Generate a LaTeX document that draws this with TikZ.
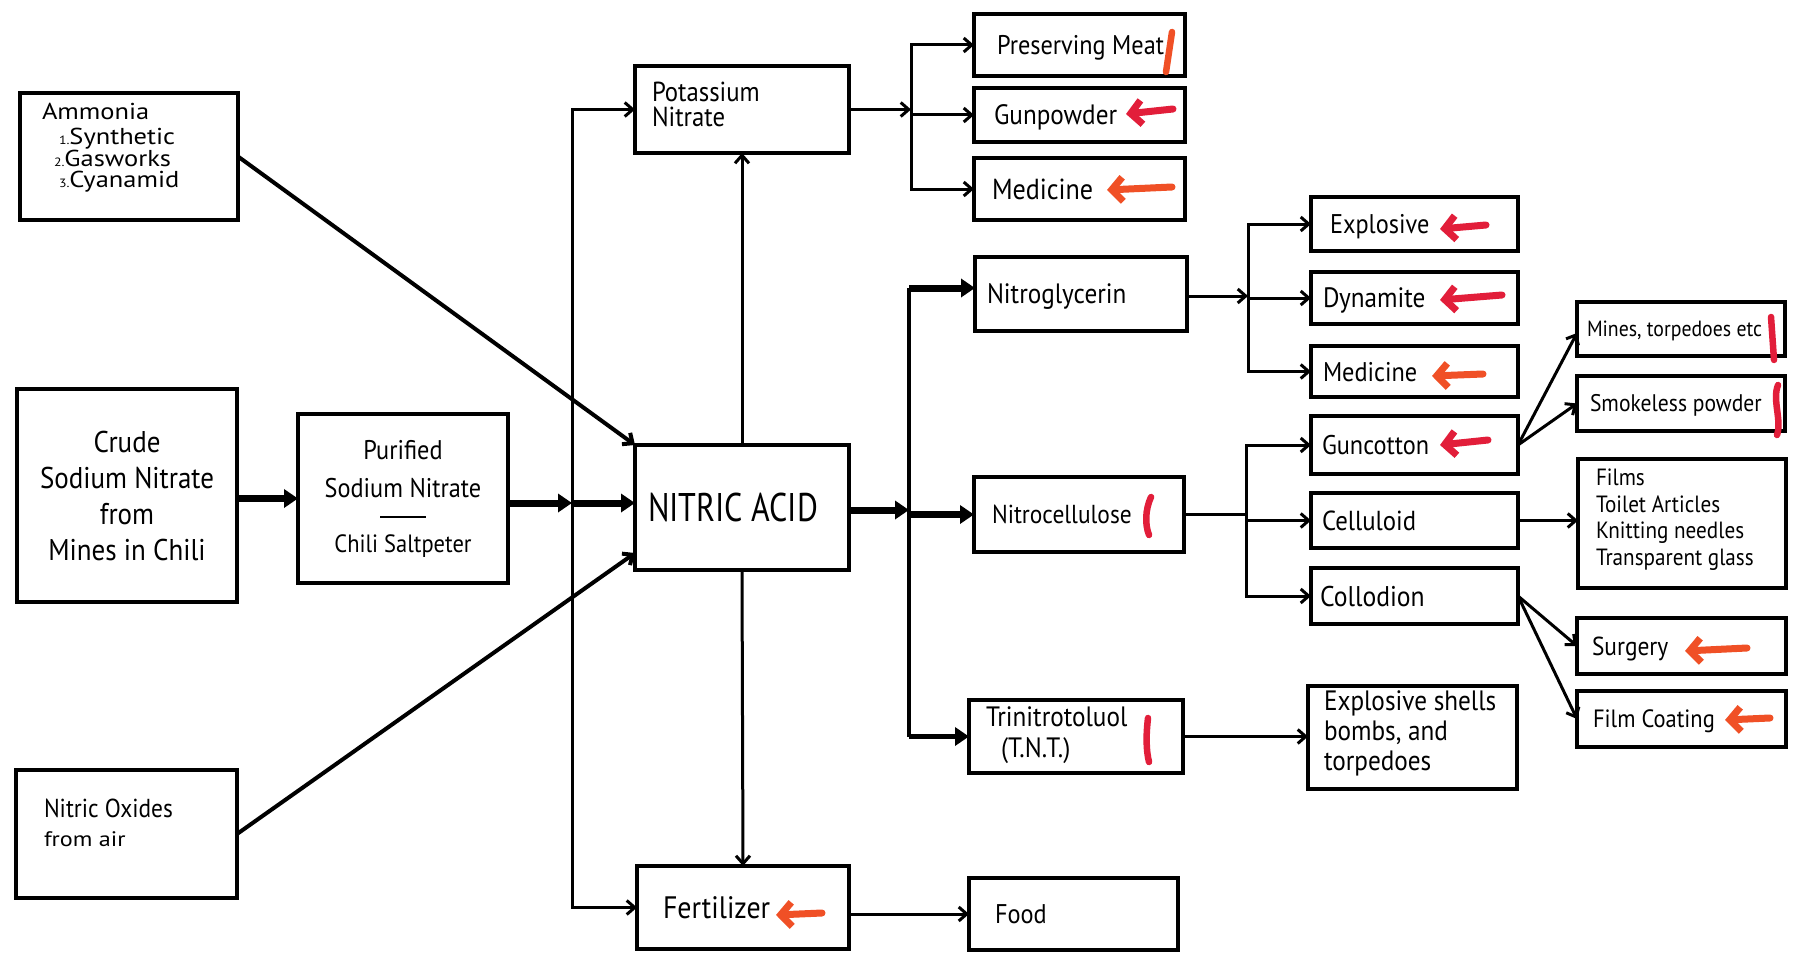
\documentclass[tikz,border=0pt]{standalone}
\usepackage{fontspec}
\setmainfont{PT Sans}[FakeStretch=0.9]
\newfontfamily\widefont{PT Sans}[FakeStretch=1.15]
\newfontfamily\capsfont{PT Sans}[FakeStretch=0.8]
\usetikzlibrary{arrows.meta,calc}
\definecolor{inkred}{RGB}{226,30,58}
\definecolor{inkorange}{RGB}{240,80,38}
\newcommand{\fsz}[2]{\fontsize{#1}{#2}\selectfont}
\begin{document}
\begin{tikzpicture}[x=1pt,y=-1pt,
  box/.style={draw=black, line width=4.5pt, inner sep=0pt, outer sep=0pt, fill=white},
  lbl/.style={inner sep=0pt, outer sep=0pt, anchor=base west, text=black},
  conn/.style={draw=black, line width=3pt, -{Straight Barb[length=8pt,width=14pt]}},
  plain/.style={draw=black, line width=3pt},
  heavy/.style={draw=black, line width=7pt, -{Triangle[length=14pt,width=18pt]}},
  redarrow/.style={line width=7pt, line cap=round, -{Straight Barb[length=11pt,width=24pt]}},
  redstroke/.style={line width=6.5pt, line cap=round},
]
\path[use as bounding box, fill=white] (0,0) rectangle (1799,955);

% ---------- left column ----------
\node[box, minimum width=218pt, minimum height=127pt] (amm) at (129,156.5) {};
\node[lbl, anchor=north west, align=left, font=\widefont\fsz{23}{21.5}] (ammT) at (42,103)
  {Ammonia\\[4pt]\hspace*{17pt}{\fsz{12}{12}1.}Synthetic\\\hspace*{12pt}{\fsz{12}{12}2.}Gasworks\\\hspace*{17pt}{\fsz{12}{12}3.}Cyanamid};

\node[box, minimum width=220pt, minimum height=213pt, align=center, font=\fsz{30}{36}] (crude) at (127,495.5)
  {Crude\\Sodium Nitrate\\from\\Mines in Chili};

\node[box, minimum width=210pt, minimum height=169pt, align=center, font=\fsz{27}{38}] (pur) at (403,498.5)
  {Purified\\Sodium Nitrate\\[-17pt]\rule{46pt}{2.5pt}\\[-4pt]{\fsz{25}{38}Chili Saltpeter}};

\node[box, minimum width=221pt, minimum height=128pt] (nox) at (126.5,834) {};
\node[lbl, anchor=north west, align=left, font=\fsz{26}{29}] (noxT) at (44,799)
  {Nitric Oxides\\{\widefont\fsz{21}{29}from air}};

% ---------- middle column ----------
\node[box, minimum width=214pt, minimum height=87pt] (pot) at (742,109.5) {};
\node[lbl, anchor=north west, align=left, font=\fsz{27.5}{25}] (potT) at (652,82) {Potassium\\Nitrate};

\node[box, minimum width=214pt, minimum height=125pt] (na) at (742,507.5) {};
\node[lbl, font=\capsfont\fsz{40}{40}] (naT) at ($(na.west)+(13,14)$) {NITRIC ACID};

\node[box, minimum width=212pt, minimum height=83pt] (fert) at (743,907.5) {};
\node[lbl, font=\fsz{31}{31}] (fertT) at ($(fert.west)+(26,10.9)$) {Fertilizer};

% ---------- third column ----------
\node[box, minimum width=211pt, minimum height=62pt] (pres) at (1079.5,45) {};
\node[lbl, font=\fsz{27}{27}] (presT) at ($(pres.west)+(23,9.5)$) {Preserving Meat};
\node[box, minimum width=211pt, minimum height=54pt] (gun) at (1079.5,115) {};
\node[lbl, font=\fsz{28}{28}] (gunT) at ($(gun.west)+(20,9.8)$) {Gunpowder};
\node[box, minimum width=211pt, minimum height=62pt] (med1) at (1079.5,189) {};
\node[lbl, font=\fsz{29}{29}] (med1T) at ($(med1.west)+(18,10.2)$) {Medicine};

\node[box, minimum width=212pt, minimum height=74pt] (nglyc) at (1081,294) {};
\node[lbl, font=\fsz{28}{28}] (nglycT) at ($(nglyc.west)+(12,9.8)$) {Nitroglycerin};
\node[box, minimum width=210pt, minimum height=75pt] (ncell) at (1079,514.5) {};
\node[lbl, font=\fsz{26}{26}] (ncellT) at ($(ncell.west)+(18,9.1)$) {Nitrocellulose};
\node[box, minimum width=214pt, minimum height=73pt] (tnt) at (1076,736.5) {};
\node[lbl, anchor=north west, align=left, font=\fsz{28}{31}] (tntT) at (986,707) {Trinitrotoluol\\\hspace*{15pt}(T.N.T.)};
\node[box, minimum width=209pt, minimum height=72pt] (food) at (1073.5,914) {};
\node[lbl, font=\fsz{27}{27}] (foodT) at ($(food.west)+(26,9.5)$) {Food};

% ---------- fourth column ----------
\node[box, minimum width=207pt, minimum height=54pt] (expl) at (1414.5,224) {};
\node[lbl, font=\fsz{27}{27}] (explT) at ($(expl.west)+(19,9.5)$) {Explosive};
\node[box, minimum width=207pt, minimum height=52pt] (dyn) at (1414.5,298) {};
\node[lbl, font=\fsz{28}{28}] (dynT) at ($(dyn.west)+(12,9.8)$) {Dynamite};
\node[box, minimum width=207pt, minimum height=51pt] (med2) at (1414.5,371.5) {};
\node[lbl, font=\fsz{27}{27}] (med2T) at ($(med2.west)+(12,9.5)$) {Medicine};
\node[box, minimum width=207pt, minimum height=58pt] (gunc) at (1414.5,445) {};
\node[lbl, font=\fsz{27}{27}] (guncT) at ($(gunc.west)+(11,9.5)$) {Guncotton};
\node[box, minimum width=207pt, minimum height=55pt] (cell) at (1414.5,520.5) {};
\node[lbl, font=\fsz{27.5}{27.5}] (cellT) at ($(cell.west)+(11,9.6)$) {Celluloid};
\node[box, minimum width=207pt, minimum height=56pt] (coll) at (1414.5,596) {};
\node[lbl, font=\fsz{28.5}{28.5}] (collT) at ($(coll.west)+(9,10)$) {Collodion};
\node[box, minimum width=209pt, minimum height=103pt] (shells) at (1412.5,737.5) {};
\node[lbl, anchor=north west, align=left, font=\fsz{28}{30}] (shellsT) at (1324,691)
  {Explosive shells\\bombs, and\\torpedoes};

% ---------- fifth column ----------
\node[box, minimum width=208pt, minimum height=54pt] (mines) at (1681,329) {};
\node[lbl, font=\fsz{22}{22}] (minesT) at ($(mines.west)+(10,7.7)$) {Mines, torpedoes etc};
\node[box, minimum width=208pt, minimum height=55pt] (smoke) at (1681,403.5) {};
\node[lbl, font=\fsz{24}{24}] (smokeT) at ($(smoke.west)+(13,8.4)$) {Smokeless powder};
\node[box, minimum width=208pt, minimum height=129pt] (films) at (1682,523.5) {};
\node[lbl, anchor=north west, align=left, font=\fsz{23.5}{26.5}] (filmsT) at (1596,469)
  {Films\\Toilet Articles\\Knitting needles\\Transparent glass};
\node[box, minimum width=209pt, minimum height=56pt] (surg) at (1681.5,646) {};
\node[lbl, font=\fsz{26}{26}] (surgT) at ($(surg.west)+(15,9.1)$) {Surgery};
\node[box, minimum width=209pt, minimum height=56pt] (fcoat) at (1681.5,719) {};
\node[lbl, font=\fsz{25}{25}] (fcoatT) at ($(fcoat.west)+(16,8.75)$) {Film Coating};

% ---------- connectors ----------
\coordinate (J) at (572,503);
\draw[heavy] (crude.east |- pur.west) -- (pur.west);
\draw[heavy] (pur.east |- J) -- (J);
\draw[heavy] (J) -- (J -| na.west);
\draw[conn] (J) |- (pot.west);
\draw[conn] (J) |- (fert.west);
\draw[conn, line width=4pt] (amm.east) -- (na.north west);
\draw[conn, line width=4pt] (nox.east) -- ($(na.south west)+(0,-17)$);
\draw[conn] (na.north) -- (pot.south);
\draw[conn] (na.south) -- (fert.north);

\coordinate (K) at (911,109.5);
\draw[conn] (pot.east) -- (K);
\draw[conn] (K) |- (pres.west);
\draw[conn] (K |- gun.west) -- (gun.west);
\draw[conn] (K) |- (med1.west);

\coordinate (L) at (909,510);
\coordinate (Ln) at (909,288);
\coordinate (Lt) at (L |- tnt.west);
\draw[heavy] (na.east |- L) -- (L);
\draw[plain, line width=3.5pt] (Ln) -- (Lt);
\draw[heavy] (Ln) -- (Ln -| nglyc.west);
\draw[heavy] (L |- ncell.west) -- (ncell.west);
\draw[heavy, line width=5pt] (Lt) -- (tnt.west);

\coordinate (M) at (1248,296);
\draw[conn] (nglyc.east |- M) -- (M);
\draw[conn] (M) |- (expl.west);
\draw[conn] (M |- dyn.west) -- (dyn.west);
\draw[conn] (M) |- (med2.west);

\coordinate (N) at (1246,514.5);
\draw[plain] (ncell.east) -- (N);
\draw[conn] (N) |- (gunc.west);
\draw[conn] (N |- cell.west) -- (cell.west);
\draw[conn] (N) |- (coll.west);

\draw[conn] (tnt.east) -- (tnt.east -| shells.west);
\draw[conn] (gunc.east) -- ($(mines.west)+(0,4)$);
\draw[conn] (gunc.east) -- (smoke.west);
\draw[conn] (cell.east) -- (cell.east -| films.west);
\draw[conn] (coll.east) -- (surg.west);
\draw[conn] (coll.east) -- (fcoat.west);
\draw[conn] (fert.east |- food.west) -- (food.west);

% ---------- red annotations ----------
\draw[redarrow, inkred] (1173,109) -- (1126,114);
\draw[redarrow, inkorange] (1172,187) -- (1107,190);
\draw[redarrow, inkred] (1486,225) -- (1440,229);
\draw[redarrow, inkred] (1502,295) -- (1440,300);
\draw[redarrow, inkorange] (1483,374) -- (1432,376);
\draw[redarrow, inkred] (1488,440) -- (1440,445);
\draw[redarrow, inkorange] (1747,648) -- (1685,651);
\draw[redarrow, inkorange] (1770,718) -- (1725,720);
\draw[redarrow, inkorange] (822,913) -- (776,915);
\draw[redstroke, inkorange] (1172,32) -- (1166,72);
\draw[redstroke, inkred] (1151,497) .. controls (1145,510) and (1145,525) .. (1149,535);
\draw[redstroke, inkred] (1148,718) .. controls (1146,735) and (1146,750) .. (1149,762);
\draw[redstroke, inkred] (1771,317) -- (1774,360);
\draw[redstroke, inkred] (1778,385) .. controls (1772,400) and (1782,420) .. (1777,435);
\end{tikzpicture}
\end{document}
